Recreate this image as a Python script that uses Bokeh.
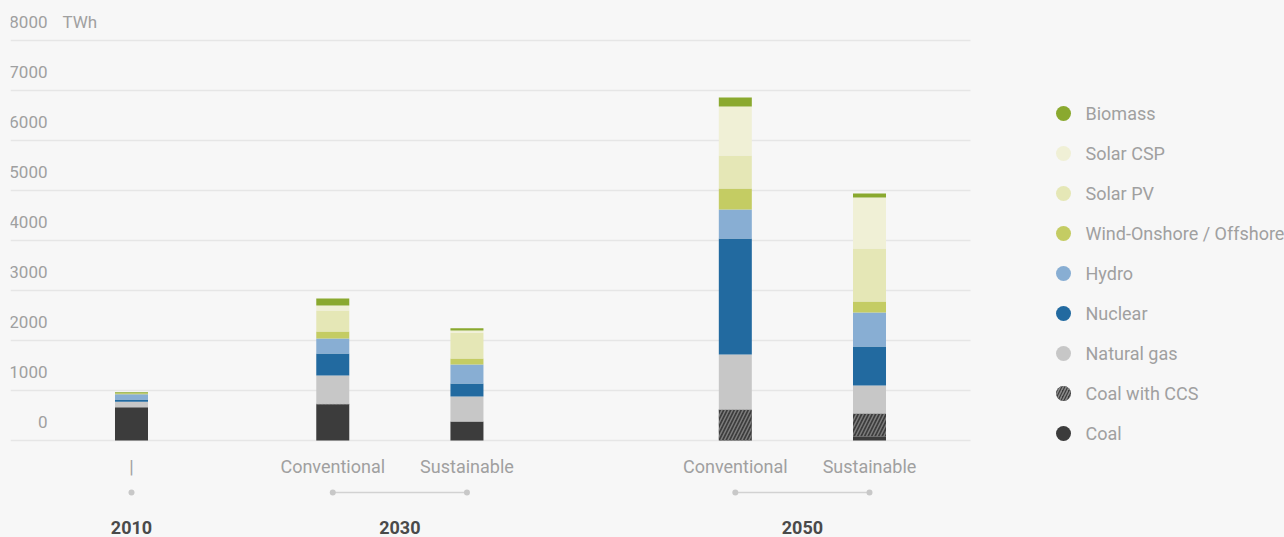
from bokeh.plotting import figure
from bokeh.layouts import row
from bokeh.models import ColumnDataSource, FactorRange, Range1d, FixedTicker
from bokeh.core.properties import value
from bokeh.embed import file_html
from bokeh.resources import INLINE

# ---------------- data (TWh) ----------------
periods = ["2010", "2030", "2030", "2050", "2050"]
scenarios = ["|", "Conventional", "Sustainable", "Conventional", "Sustainable"]

coal = [666, 720, 380, 0, 80]
coal_ccs = [0, 14, 0, 620, 460]
natural_gas = [108, 566, 500, 1100, 560]
nuclear = [46, 440, 260, 2320, 780]
hydro = [106, 300, 380, 580, 680]
wind = [20, 140, 120, 420, 220]
solar_pv = [0, 420, 515, 660, 1060]
solar_csp = [0, 100, 46, 980, 1020]
biomass = [20, 140, 46, 180, 80]

source_names = ["Coal", "Coal with CCS", "Natural gas", "Nuclear", "Hydro",
                "Wind-Onshore / Offshore", "Solar PV", "Solar CSP", "Biomass"]
y_ticks = [0, 1000, 2000, 3000, 4000, 5000, 6000, 7000, 8000]
y_unit = "TWh"

# ---------------- styles ----------------
colors = ["#3c3c3c", "#3c3c3c", "#c7c7c7", "#226aa0", "#88aed3",
          "#c4cc63", "#e5e7b6", "#f0f0d6", "#8aa92f"]
hatches = [" ", "/", " ", " ", " ", " ", " ", " ", " "]
FONT = "Roboto"
BG = "#f7f7f7"
GRAY_TXT = "#a0a0a0"
H = 537
W_CHART = 990
W_LEG = 1284 - W_CHART
Y0, Y1 = -1940, 8800
PX = (Y1 - Y0) / H          # data units per screen pixel
PAD = 1.3035
BAR_W = 0.492

series = [coal, coal_ccs, natural_gas, nuclear, hydro, wind, solar_pv, solar_csp, biomass]
keys = ["s%d" % i for i in range(len(series))]

tops = ["base" if per == periods[0] else "outlook" for per in periods]
factors = list(zip(tops, periods, scenarios))

x_range = FactorRange(factors=factors, group_padding=2.0, subgroup_padding=3.0,
                      factor_padding=1.0, range_padding=PAD, range_padding_units="absolute")

p = figure(width=W_CHART, height=H, x_range=x_range, y_range=Range1d(Y0, Y1),
           output_backend="svg", toolbar_location=None,
           x_axis_location=None, y_axis_location=None,
           min_border_left=10, min_border_right=0, min_border_top=0, min_border_bottom=0,
           background_fill_color=BG, border_fill_color=BG, outline_line_color=None)

p.xgrid.visible = False
p.ygrid.ticker = FixedTicker(ticks=y_ticks)
p.ygrid.grid_line_color = "#e6e6e6"
p.ygrid.grid_line_width = 1.5
try:
    p.ygrid.cross_bounds = (-PAD, -PAD + 960 * (12 + 2 * PAD) / 980)
except Exception:
    pass

data = dict(x=factors)
for k, s in zip(keys, series):
    data[k] = s
src = ColumnDataSource(data)

p.vbar_stack(keys, x="x", width=BAR_W, source=src, fill_color=colors, line_color=None,
             hatch_pattern=hatches, hatch_color="#7c7c7c", hatch_weight=1.5, hatch_scale=7)

# y tick labels (inside the chart area, above the grid lines)
p.text(x=[factors[0]] * len(y_ticks), y=[t + 19 * PX for t in y_ticks],
       text=[str(t) for t in y_ticks], x_offset=-84, text_align="right",
       text_baseline="middle", text_font=value(FONT), text_font_size="17px",
       text_color=GRAY_TXT)
p.text(x=[factors[0]], y=[y_ticks[-1] + 19 * PX], text=[y_unit], x_offset=-69,
       text_align="left", text_baseline="middle", text_font=value(FONT),
       text_font_size="17px", text_color=GRAY_TXT)

# bottom category labels
SUB_Y = -26 * PX
DOT_Y = -52 * PX
YEAR_Y = -87 * PX
p.text(x=factors, y=[SUB_Y] * len(factors), text=scenarios, text_align="center",
       text_baseline="middle", text_font=value(FONT), text_font_size="18px",
       text_color=GRAY_TXT)

groups = {}
for f in factors:
    groups.setdefault((f[0], f[1]), []).append(f)
for g, fs in groups.items():
    if len(fs) > 1:
        p.segment(x0=[fs[0]], x1=[fs[-1]], y0=[DOT_Y], y1=[DOT_Y],
                  line_color="#d2d2d2", line_width=1.5)
p.scatter(x=factors, y=[DOT_Y] * len(factors), size=6, color="#c8c8c8", line_color=None)

group_keys = list(groups.keys())
p.text(x=group_keys, y=[YEAR_Y] * len(group_keys), text=[g[1] for g in group_keys],
       text_align="center", text_baseline="middle", text_font=value(FONT),
       text_font_size="18px", text_font_style="bold", text_color="#4a4a4a")

# ---------------- legend (separate panel, pixel coordinates) ----------------
leg = figure(width=W_LEG, height=H, x_range=Range1d(0, W_LEG), y_range=Range1d(H, 0),
             output_backend="svg", toolbar_location=None,
             x_axis_location=None, y_axis_location=None,
             min_border=0, background_fill_color=BG, border_fill_color=BG,
             outline_line_color=None)
leg.xgrid.visible = False
leg.ygrid.visible = False

order = list(range(len(source_names)))[::-1]
leg_names = [source_names[i] for i in order]
leg_colors = [colors[i] for i in order]
leg_hatch = [hatches[i] for i in order]
ROW0, ROW_H = 113, 40
leg_y = [ROW0 + ROW_H * k for k in range(len(leg_names))]
lsrc = ColumnDataSource(dict(y=leg_y, name=leg_names, color=leg_colors, hatch=leg_hatch))
leg.scatter(x=73, y="y", source=lsrc, size=15, fill_color="color", line_color=None,
            hatch_pattern="hatch", hatch_color="#8a8a8a", hatch_weight=1.5, hatch_scale=6)
leg.text(x=95, y="y", text="name", source=lsrc, text_align="left", text_baseline="middle",
         text_font=value(FONT), text_font_size="18px", text_color=GRAY_TXT)

layout = row(p, leg, spacing=0)
html = file_html(layout, INLINE)
html = html.replace("<head>", "<head><style>body{background:%s;}</style>" % BG, 1)
open("out.html", "w").write(html)
